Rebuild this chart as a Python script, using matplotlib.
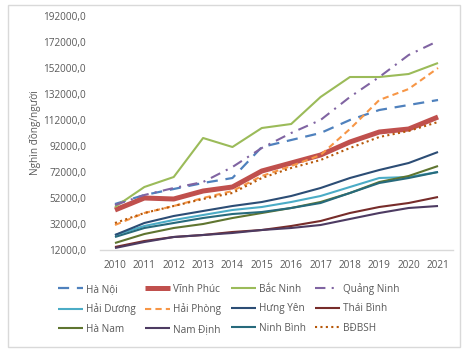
import matplotlib
matplotlib.use("Agg")
import matplotlib.pyplot as plt
from matplotlib.patches import Rectangle
from matplotlib.ticker import FixedLocator, FuncFormatter

plt.rcParams['font.family'] = ['Open Sans', 'DejaVu Sans']

years = list(range(2010, 2022))

ha_noi      = [47380, 54300, 58920, 63540, 67380, 91230, 96610, 102000, 112000, 119690, 123540, 127380]
vinh_phuc   = [42770, 52000, 51230, 57380, 60460, 72770, 78920, 85070, 95070, 102770, 105070, 114300]
bac_ninh    = [45080, 60460, 68150, 98150, 91230, 105840, 108920, 129690, 145070, 145070, 147380, 155840]
quang_ninh  = [46600, 54300, 59700, 64300, 75850, 90460, 102000, 112000, 129690, 145070, 162000, 172770]
hai_duong   = [23540, 30460, 35080, 38920, 42770, 45080, 48920, 53540, 60460, 67380, 68150, 72000]
hai_phong   = [31230, 40460, 45840, 52000, 57380, 68920, 76610, 85070, 105070, 127380, 135840, 152000]
hung_yen    = [23540, 32770, 38150, 42000, 45840, 48920, 53540, 59690, 67380, 73540, 78920, 87380]
thai_binh   = [14300, 18920, 22000, 23540, 25850, 27380, 30460, 34300, 40460, 45080, 48150, 52770]
ha_nam      = [17380, 24300, 28920, 32000, 36610, 40460, 44310, 48920, 55850, 64300, 68920, 76610]
nam_dinh    = [13540, 18150, 22000, 23540, 25080, 27380, 28920, 31230, 35850, 40460, 44310, 45840]
ninh_binh   = [22000, 28920, 32770, 36610, 39690, 41230, 44310, 48150, 55850, 63540, 67380, 72000]
bdbsh       = [32770, 40460, 45840, 51230, 55850, 67380, 75080, 81230, 90460, 98920, 103540, 110460]

y_ticks = list(range(12000, 192001, 20000))

# name, values, color, linewidth, dash pattern
series = [
    ("Hà Nội",     ha_noi,     "#4F81BD", 1.6, (0, (5, 3.5))),
    ("Vĩnh Phúc",  vinh_phuc,  "#C0504D", 3.6, "-"),
    ("Bắc Ninh",   bac_ninh,   "#9BBB59", 1.5, "-"),
    ("Quảng Ninh", quang_ninh, "#8064A2", 1.5, (0, (5, 3, 1, 3))),
    ("Hải Dương",  hai_duong,  "#4BACC6", 1.5, "-"),
    ("Hải Phòng",  hai_phong,  "#F79646", 1.5, (0, (3, 2))),
    ("Hưng Yên",   hung_yen,   "#2C4D75", 1.5, "-"),
    ("Thái Bình",  thai_binh,  "#772C2A", 1.5, "-"),
    ("Hà Nam",     ha_nam,     "#5F7530", 1.5, "-"),
    ("Nam Định",   nam_dinh,   "#4D3B62", 1.5, "-"),
    ("Ninh Bình",  ninh_binh,  "#276A7C", 1.5, "-"),
    ("BĐBSH",      bdbsh,      "#B65708", 1.5, (0, (1, 1.6))),
]

fig = plt.figure(figsize=(4.68, 3.49), dpi=100)
fig.patch.set_facecolor("white")
ax = fig.add_axes([100 / 468, 99 / 349, 353 / 468, 234 / 349])

handles = {}
for name, vals, color, lw, ls in series:
    (ln,) = ax.plot(years, vals, color=color, lw=lw, linestyle=ls, label=name,
                    solid_capstyle="butt", dash_capstyle="butt")
    handles[name] = ln

ax.set_xlim(2009.49, 2021.51)
ax.set_ylim(12000, 192000)
ax.yaxis.set_major_locator(FixedLocator(y_ticks))
ax.yaxis.set_major_formatter(FuncFormatter(lambda v, p: f"{v:.1f}".replace(".", ",")))
ax.set_xticks(years)
ax.tick_params(axis="both", length=0, labelsize=7.2, colors="#595959")
ax.tick_params(axis="y", pad=10)
ax.tick_params(axis="x", pad=7)
for s in ("top", "right", "left"):
    ax.spines[s].set_visible(False)
ax.spines["bottom"].set_color("#D9D9D9")
ax.spines["bottom"].set_linewidth(1.0)

ax.set_ylabel("Nghìn đồng/người", fontsize=7.2, color="#595959")
ax.yaxis.set_label_coords(-59 / 353, 0.5)

# legend laid out in rows of four
names = [s[0] for s in series]
ncol, nrow = 4, 3
order = [names[r * ncol + c] for c in range(ncol) for r in range(nrow)]
leg = fig.legend([handles[n] for n in order], order, loc="upper left",
                 bbox_to_anchor=(58 / 468, 1 - 283 / 349), ncol=ncol,
                 frameon=False, fontsize=7.2, handlelength=2.5, handletextpad=0.3,
                 columnspacing=0.95, labelspacing=0.85, borderaxespad=0, borderpad=0)
for t in leg.get_texts():
    t.set_color("#595959")

# chart area border
fig.add_artist(Rectangle((8 / 468, 2 / 349), 452 / 468, 342 / 349, transform=fig.transFigure,
                         fill=False, edgecolor="#D9D9D9", lw=1.0))

fig.savefig("out.png", dpi=100)
